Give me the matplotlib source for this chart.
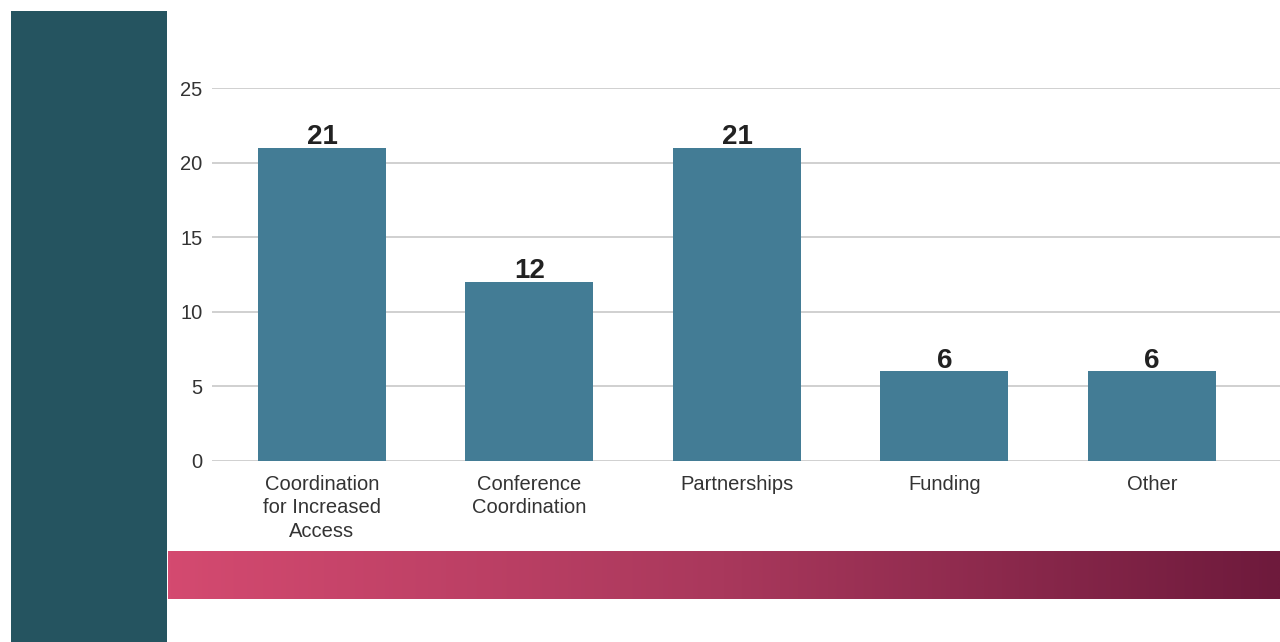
import matplotlib
matplotlib.use("Agg")
import matplotlib.pyplot as plt
import numpy as np
from matplotlib.colors import LinearSegmentedColormap

categories = ["Coordination\nfor Increased\nAccess", "Conference\nCoordination",
              "Partnerships", "Funding", "Other"]
counts = [21, 12, 21, 6, 6]
y_ticks = [0, 5, 10, 15, 20, 25]

BAR_COLOR = "#437c95"
PANEL_COLOR = "#255460"
GRID_COLOR = "#c8c8c8"
TEXT_COLOR = "#333333"

plt.rcParams["font.family"] = ["Liberation Sans", "DejaVu Sans"]

fig = plt.figure(figsize=(12.8, 6.42), dpi=100)
W, H = 1280, 642


def px_axes(x0, y0, x1, y1, **kw):
    # rectangle given in pixel coords (top-left origin)
    return fig.add_axes([x0 / W, 1 - y1 / H, (x1 - x0) / W, (y1 - y0) / H], **kw)


# dark side panel
panel = px_axes(11, 11, 167, 642)
panel.set_facecolor(PANEL_COLOR)
panel.set_xticks([])
panel.set_yticks([])
for s in panel.spines.values():
    s.set_visible(False)

# gradient band under the chart
band = px_axes(168, 551, 1280, 599)
cmap = LinearSegmentedColormap.from_list("band", ["#d44a70", "#a9385c", "#6e1a3c"])
band.imshow(np.linspace(0, 1, 512)[None, :], aspect="auto", cmap=cmap,
            extent=[0, 1, 0, 1])
band.axis("off")

# main chart
ax = px_axes(212, 88, 1280, 461)
x = np.arange(len(categories))
bars = ax.bar(x, counts, width=0.617, color=BAR_COLOR, zorder=3)
ax.set_xlim(-0.53, 4.617)
ax.set_ylim(0, 25)
ax.set_yticks(y_ticks)
ax.yaxis.grid(True, color=GRID_COLOR, linewidth=1.2, zorder=0)
ax.set_axisbelow(True)
for s in ax.spines.values():
    s.set_visible(False)
ax.tick_params(axis="y", length=0, pad=7, labelsize=14.5, labelcolor=TEXT_COLOR)
ax.tick_params(axis="x", length=0, pad=10, labelsize=14.5, labelcolor=TEXT_COLOR)
ax.set_xticks(x)
ax.set_xticklabels(categories, linespacing=1.3)

for rect, val in zip(bars, counts):
    ax.annotate(str(val), (rect.get_x() + rect.get_width() / 2, val),
                xytext=(0, -1.5), textcoords="offset points",
                ha="center", va="bottom", fontsize=20, fontweight="bold",
                color="#222222")

fig.savefig("out.png", dpi=100, facecolor="white")
